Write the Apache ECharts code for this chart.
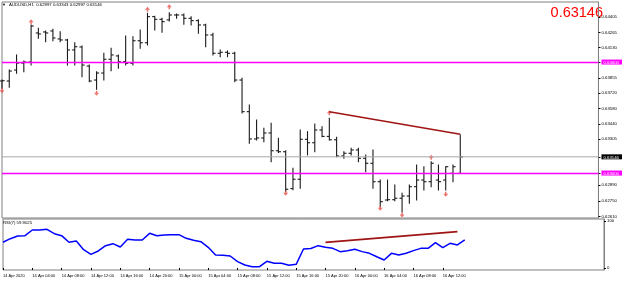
<!DOCTYPE html>
<html>
<head>
<meta charset="utf-8">
<title>AUDUSD,H1</title>
<script src="https://cdn.jsdelivr.net/npm/echarts@6/dist/echarts.min.js"></script>
<style>
  body { margin: 0; background: #fff; }
  #chart { width: 625px; height: 281px; }
</style>
</head>
<body>
<div id="chart"></div>
<script>
// 小时线 OHLC，14 Apr 2020 00:00 起
const opens = [0.63829, 0.63829, 0.63928, 0.63991, 0.64000, 0.64262, 0.64271, 0.64280, 0.64208, 0.64199,
  0.64109, 0.64136, 0.63964, 0.63838, 0.63901, 0.64025, 0.64055, 0.64003, 0.63989, 0.64192,
  0.64174, 0.64409, 0.64385, 0.64380, 0.64424, 0.64424, 0.64394, 0.64373, 0.64334, 0.64244,
  0.64079, 0.64088, 0.64079, 0.63838, 0.63553, 0.63307, 0.63316, 0.63361, 0.63201, 0.63192,
  0.62860, 0.62944, 0.63304, 0.63273, 0.63388, 0.63330, 0.63300, 0.63154, 0.63178, 0.63208,
  0.63133, 0.63088, 0.62922, 0.62757, 0.62760, 0.62773, 0.62793, 0.62877, 0.62937, 0.62922,
  0.62937, 0.62937, 0.62998, 0.62997]
const highs = [0.63838, 0.63928, 0.64064, 0.64009, 0.64334, 0.64304, 0.64280, 0.64295, 0.64273, 0.64205,
  0.64174, 0.64145, 0.63973, 0.63913, 0.64079, 0.64124, 0.64064, 0.64235, 0.64228, 0.64289,
  0.64439, 0.64412, 0.64394, 0.64445, 0.64433, 0.64433, 0.64409, 0.64380, 0.64340, 0.64259,
  0.64109, 0.64100, 0.64088, 0.63854, 0.63613, 0.63478, 0.63403, 0.63448, 0.63313, 0.63200,
  0.63043, 0.63388, 0.63373, 0.63442, 0.63418, 0.63493, 0.63322, 0.63192, 0.63223, 0.63223,
  0.63163, 0.63208, 0.62937, 0.62937, 0.62892, 0.62818, 0.62892, 0.63073, 0.63057, 0.63102,
  0.63073, 0.63057, 0.63073, 0.63343]
const lows = [0.63764, 0.63773, 0.63899, 0.63913, 0.63973, 0.64214, 0.64183, 0.64192, 0.64183, 0.63973,
  0.63973, 0.63868, 0.63823, 0.63754, 0.63838, 0.63922, 0.63944, 0.63973, 0.63973, 0.64124,
  0.64154, 0.64289, 0.64268, 0.64370, 0.64394, 0.64340, 0.64334, 0.64259, 0.64138, 0.64064,
  0.64048, 0.64048, 0.63823, 0.63540, 0.63268, 0.63298, 0.63282, 0.63102, 0.63185, 0.62832,
  0.62850, 0.62863, 0.63163, 0.63192, 0.63328, 0.63298, 0.63147, 0.63133, 0.63163, 0.63102,
  0.63012, 0.62863, 0.62697, 0.62750, 0.62750, 0.62649, 0.62727, 0.62757, 0.62847, 0.62877,
  0.62847, 0.62847, 0.62922, 0.62997]
const closes = [0.63832, 0.63919, 0.63991, 0.64000, 0.64325, 0.64253, 0.64262, 0.64217, 0.64199, 0.64109,
  0.64138, 0.63973, 0.63829, 0.63901, 0.64025, 0.64064, 0.64003, 0.63989, 0.64192, 0.64174,
  0.64409, 0.64385, 0.64364, 0.64424, 0.64424, 0.64394, 0.64373, 0.64334, 0.64244, 0.64079,
  0.64088, 0.64079, 0.63838, 0.63553, 0.63307, 0.63316, 0.63361, 0.63201, 0.63192, 0.62854,
  0.62944, 0.63304, 0.63273, 0.63388, 0.63330, 0.63300, 0.63154, 0.63178, 0.63208, 0.63133,
  0.63088, 0.62922, 0.62742, 0.62760, 0.62773, 0.62793, 0.62877, 0.62937, 0.62922, 0.63088,
  0.62922, 0.63057, 0.63057, 0.63146]

// RSI(7)
const rsi = [54.7, 62.4, 68, 68.8, 80.9, 80.9, 82.3, 73, 68.8, 54.7,
  57.5, 39, 29, 36.2, 47.5, 51.8, 44.7, 61, 59.6, 59.6,
  73.8, 68.8, 70.2, 70.9, 70.9, 63.1, 58.9, 56, 44, 27.7,
  27, 25.5, 13.5, 6.4, 2.8, 2.8, 14.2, 9.9, 9.9, 5.7,
  7.8, 40.4, 41.5, 47.5, 44, 41.8, 34.8, 36.9, 39.7, 34.8,
  31.2, 24, 17, 31.2, 27.7, 31.2, 36.9, 41.8, 41.8, 53.9,
  43.3, 52.5, 49, 59.9]

// 价格刻度
const priceTicks = [0.62610, 0.62750, 0.62890, 0.63305, 0.63440, 0.63580, 0.63720,
  0.63855, 0.64130, 0.64265, 0.64405, 0.64545]
const levels = [0.64000, 0.63000]
const bid = 0.63146
const rsiTicks = [0, 100]

// 分形箭头和趋势线
const fractalUp = [[4, 0.64364], [20, 0.64475], [23, 0.64499], [45, 0.63544], [59, 0.63142]]
const fractalDown = [[0, 0.63742], [13, 0.63718], [39, 0.62818], [52, 0.62682], [55, 0.62622], [61, 0.62809]]
const priceTrend = [[45, 0.63553], [63, 0.63349]]
const rsiTrend = [[44, 54.7], [62, 77.2]]

const days = ['14 Apr', '15 Apr', '16 Apr']
const slots = 83

const categories = []
for (let d = 0; d < days.length; d++) {
  for (let h = 0; h < 24; h++) {
    if (categories.length >= opens.length) break
    if (d === 0 && h === 0) categories.push('14 Apr 2020')
    else categories.push(days[d] + ' ' + String(h).padStart(2, '0') + ':00')
  }
}
while (categories.length < slots) categories.push('')

const ohlc = opens.map((o, i) => [i, o, highs[i], lows[i], closes[i]])

const font = 'Liberation Sans, Arial, sans-serif'
const tiny = 4.3

const chart = echarts.init(document.getElementById('chart'))
const option = {
  animation: false,
  backgroundColor: '#fff',
  grid: [
    { left: 2, right: 21, top: 2, height: 216, show: true, borderColor: '#808080', borderWidth: 1 },
    { left: 2, right: 21, top: 219, height: 51, show: true, borderColor: '#808080', borderWidth: 1 }
  ],
  xAxis: [
    {
      type: 'category', gridIndex: 0, data: categories, boundaryGap: false,
      axisLine: { show: false }, axisTick: { show: false }, axisLabel: { show: false }
    },
    {
      type: 'category', gridIndex: 1, data: categories, boundaryGap: false,
      axisLine: { show: false },
      axisTick: { show: true, length: 2, lineStyle: { color: '#000' }, interval: (i) => i % 4 === 0 && i < opens.length },
      axisLabel: {
        show: true, fontSize: 4, color: '#000', align: 'left', margin: 4, fontFamily: font,
        interval: (i) => i % 4 === 0 && i < opens.length
      }
    }
  ],
  yAxis: [
    {
      type: 'value', gridIndex: 0, position: 'right', min: 0.62595, max: 0.64541,
      splitLine: { show: false },
      axisLine: { show: true, lineStyle: { color: '#808080' } },
      axisTick: { show: true, length: 2, lineStyle: { color: '#000' }, customValues: priceTicks.concat(levels, [bid]) },
      axisLabel: {
        fontSize: tiny, color: '#000', margin: 3, fontFamily: font,
        customValues: priceTicks.concat(levels, [bid]),
        formatter: (v) => {
          const s = v.toFixed(5)
          if (levels.some((l) => Math.abs(l - v) < 1e-7)) return '{m|' + s + '}'
          if (Math.abs(v - bid) < 1e-7) return '{k|' + s + '}'
          return s
        },
        rich: {
          m: { backgroundColor: '#ff00ff', color: '#fff', fontSize: tiny, padding: [1, 3, 0, 2], fontFamily: font },
          k: { backgroundColor: '#000', color: '#fff', fontSize: tiny, padding: [1, 3, 0, 2], fontFamily: font }
        }
      }
    },
    {
      type: 'value', gridIndex: 1, position: 'right', min: -4.3, max: 104.3,
      splitLine: { show: false },
      axisLine: { show: true, lineStyle: { color: '#808080' } },
      axisTick: { show: true, length: 2, lineStyle: { color: '#000' }, customValues: rsiTicks },
      axisLabel: { fontSize: tiny, color: '#000', margin: 3, fontFamily: font, customValues: rsiTicks }
    }
  ],
  graphic: [
    { type: 'text', left: 2, top: 3, style: { text: '▼', fontSize: 4, fill: '#000', fontFamily: font } },
    { type: 'text', left: 9, top: 3, style: { text: 'AUDUSD,H1  0.62997 0.63343 0.62997 0.63146', fontSize: tiny, fill: '#000', fontFamily: font } },
    { type: 'text', left: 3, top: 221, style: { text: 'RSI(7) 59.9025', fontSize: tiny, fill: '#000', fontFamily: font } },
    { type: 'text', right: 22, top: 5, style: { text: '0.63146', fontSize: 14.5, fill: '#ff0000', fontFamily: font } }
  ],
  series: [
    {
      // 当前买价线，横跨整个窗口
      name: 'bid',
      type: 'line',
      xAxisIndex: 0,
      yAxisIndex: 0,
      data: [[0, bid], [slots - 1, bid]],
      symbol: 'none',
      silent: true,
      lineStyle: { color: '#a8a8a8', width: 1 }
    },
    {
      name: 'bars',
      type: 'custom',
      xAxisIndex: 0,
      yAxisIndex: 0,
      data: ohlc,
      encode: { x: 0, y: [1, 2, 3, 4] },
      renderItem: (params, api) => {
        const x = api.value(0)
        const pO = api.coord([x, api.value(1)])
        const pH = api.coord([x, api.value(2)])
        const pL = api.coord([x, api.value(3)])
        const pC = api.coord([x, api.value(4)])
        const style = { stroke: '#1a1a1a', lineWidth: 1.1 }
        return {
          type: 'group',
          children: [
            { type: 'line', shape: { x1: pH[0], y1: pH[1] - 0.5, x2: pL[0], y2: pL[1] + 0.5 }, style },
            { type: 'line', shape: { x1: pO[0] - 2.6, y1: pO[1], x2: pO[0], y2: pO[1] }, style },
            { type: 'line', shape: { x1: pC[0], y1: pC[1], x2: pC[0] + 2.6, y2: pC[1] }, style }
          ]
        }
      }
    },
    {
      name: 'trend',
      type: 'line',
      xAxisIndex: 0,
      yAxisIndex: 0,
      data: priceTrend,
      symbol: 'none',
      lineStyle: { color: '#a01414', width: 1.6 },
      markLine: {
        silent: true,
        symbol: 'none',
        label: { show: false },
        data: [
          { yAxis: levels[0], lineStyle: { color: '#ff00ff', width: 1.3, type: 'solid' } },
          { yAxis: levels[1], lineStyle: { color: '#ff00ff', width: 1.3, type: 'solid' } }
        ]
      }
    },
    {
      name: 'fractal up',
      type: 'scatter',
      xAxisIndex: 0,
      yAxisIndex: 0,
      data: fractalUp,
      symbol: 'path://M5,0 L10,6 L6.5,6 L6.5,10 L3.5,10 L3.5,6 L0,6 Z',
      symbolSize: [5, 5],
      itemStyle: { color: '#e8504a' }
    },
    {
      name: 'fractal down',
      type: 'scatter',
      xAxisIndex: 0,
      yAxisIndex: 0,
      data: fractalDown,
      symbol: 'path://M5,10 L10,4 L6.5,4 L6.5,0 L3.5,0 L3.5,4 L0,4 Z',
      symbolSize: [5, 5],
      itemStyle: { color: '#e8504a' }
    },
    {
      name: 'RSI(7)',
      type: 'line',
      xAxisIndex: 1,
      yAxisIndex: 1,
      data: rsi,
      symbol: 'none',
      lineStyle: { color: '#0000ff', width: 1.5 }
    },
    {
      name: 'rsi trend',
      type: 'line',
      xAxisIndex: 1,
      yAxisIndex: 1,
      data: rsiTrend,
      symbol: 'none',
      lineStyle: { color: '#a01414', width: 1.8 }
    }
  ]
}
chart.setOption(option)
</script>
</body>
</html>
